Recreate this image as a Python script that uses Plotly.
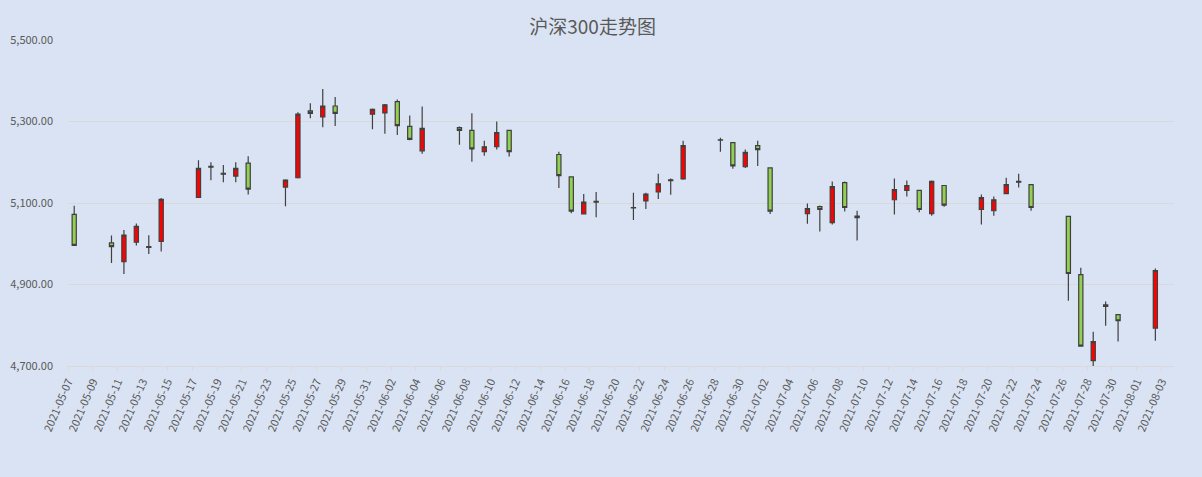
import pandas as pd
import plotly.graph_objects as go

# CSI 300 daily OHLC
dates = [
    "2021-05-07",
    "2021-05-10", "2021-05-11", "2021-05-12", "2021-05-13", "2021-05-14",
    "2021-05-17", "2021-05-18", "2021-05-19", "2021-05-20", "2021-05-21",
    "2021-05-24", "2021-05-25", "2021-05-26", "2021-05-27", "2021-05-28",
    "2021-05-31", "2021-06-01", "2021-06-02", "2021-06-03", "2021-06-04",
    "2021-06-07", "2021-06-08", "2021-06-09", "2021-06-10", "2021-06-11",
    "2021-06-15", "2021-06-16", "2021-06-17", "2021-06-18",
    "2021-06-21", "2021-06-22", "2021-06-23", "2021-06-24", "2021-06-25",
    "2021-06-28", "2021-06-29", "2021-06-30", "2021-07-01", "2021-07-02",
    "2021-07-05", "2021-07-06", "2021-07-07", "2021-07-08", "2021-07-09",
    "2021-07-12", "2021-07-13", "2021-07-14", "2021-07-15", "2021-07-16",
    "2021-07-19", "2021-07-20", "2021-07-21", "2021-07-22", "2021-07-23",
    "2021-07-26", "2021-07-27", "2021-07-28", "2021-07-29", "2021-07-30",
    "2021-08-02",
]
opens = [
    5072,
    5002, 4956, 5004, 4993, 5006,
    5114, 5190, 5173, 5166, 5198,
    5139, 5162, 5326, 5311, 5338,
    5318, 5321, 5349, 5288, 5228,
    5285, 5278, 5226, 5238, 5278,
    5219, 5164, 5073, 5104,
    5089, 5105, 5127, 5155, 5159,
    5255, 5248, 5189, 5241, 5186,
    5074, 5091, 5052, 5150, 5064,
    5108, 5131, 5131, 5074, 5143,
    5084, 5081, 5123, 5151, 5145,
    5067, 4924, 4713, 4846, 4826,
    4793,
]
highs = [
    5093,
    5020, 5034, 5050, 5021, 5112,
    5205, 5200, 5193, 5200, 5215,
    5158, 5323, 5345, 5380, 5360,
    5332, 5343, 5354, 5315, 5337,
    5288, 5320, 5253, 5300, 5279,
    5226, 5165, 5122, 5127,
    5125, 5125, 5172, 5160, 5253,
    5260, 5249, 5231, 5253, 5187,
    5099, 5094, 5153, 5153, 5081,
    5160, 5155, 5132, 5155, 5144,
    5121, 5116, 5162, 5172, 5146,
    5068, 4941, 4784, 4858, 4827,
    4939,
]
lows = [
    4996,
    4953, 4926, 4996, 4975, 4981,
    5113, 5156, 5151, 5151, 5121,
    5092, 5160, 5308, 5286, 5289,
    5281, 5270, 5267, 5254, 5221,
    5243, 5201, 5216, 5231, 5214,
    5137, 5075, 5072, 5065,
    5058, 5085, 5110, 5120, 5157,
    5226, 5184, 5186, 5191, 5073,
    5049, 5030, 5047, 5079, 5008,
    5072, 5116, 5077, 5069, 5091,
    5047, 5069, 5122, 5138, 5081,
    4860, 4748, 4696, 4799, 4760,
    4762,
]
closes = [
    4996,
    4993, 5021, 5043, 4991, 5109,
    5185, 5188, 5171, 5185, 5134,
    5156, 5318, 5320, 5338, 5320,
    5330, 5341, 5290, 5256, 5283,
    5278, 5233, 5238, 5273, 5226,
    5167, 5080, 5102, 5102,
    5088, 5122, 5147, 5157, 5241,
    5254, 5191, 5224, 5231, 5080,
    5086, 5084, 5140, 5089, 5068,
    5133, 5143, 5084, 5153, 5095,
    5113, 5108, 5145, 5153, 5089,
    4927, 4749, 4760, 4850, 4811,
    4934,
]

df = pd.DataFrame({"date": dates, "open": opens, "high": highs,
                   "low": lows, "close": closes})

BG = "#DAE3F3"
GRID = "#D9D9D9"
TXT = "#595959"
FONT = "Noto Sans CJK SC"

fig = go.Figure(go.Candlestick(
    x=df["date"], open=df["open"], high=df["high"],
    low=df["low"], close=df["close"],
    xperiod=86400000, xperiodalignment="middle",
    increasing=dict(line=dict(color="#404040", width=1.2), fillcolor="#FF0000"),
    decreasing=dict(line=dict(color="#404040", width=1.2), fillcolor="#92D050"),
    whiskerwidth=0,
))

fig.update_layout(
    width=1202, height=477,
    margin=dict(l=68, r=28, t=40, b=111),
    paper_bgcolor=BG, plot_bgcolor=BG,
    showlegend=False,
    boxgap=0.52,
    font=dict(family=FONT, size=11, color=TXT),
    title=dict(text="沪深300走势图", x=0.493, xanchor="center",
               y=0.943, yanchor="middle",
               font=dict(family=FONT, size=19, color=TXT)),
    xaxis=dict(
        type="date", range=["2021-05-07", "2021-08-04"],
        tick0="2021-05-07", dtick=2 * 86400000, tickformat="%Y-%m-%d",
        tickangle=-67, showgrid=False, showline=True, linecolor=GRID,
        linewidth=1, ticks="outside", ticklen=4, tickcolor=GRID,
        rangeslider=dict(visible=False), zeroline=False, automargin=False,
        tickfont=dict(family=FONT, size=11, color=TXT),
    ),
    yaxis=dict(
        range=[4700, 5500], tick0=4700, dtick=200, tickformat=",.2f",
        showgrid=True, gridcolor=GRID, gridwidth=1, zeroline=False,
        showline=False, ticks="", ticklabelstandoff=14, automargin=False,
        tickfont=dict(family=FONT, size=11, color=TXT),
    ),
)

fig.write_html("out.html", config={"displayModeBar": False},
               post_script="document.body.style.margin='0';")
